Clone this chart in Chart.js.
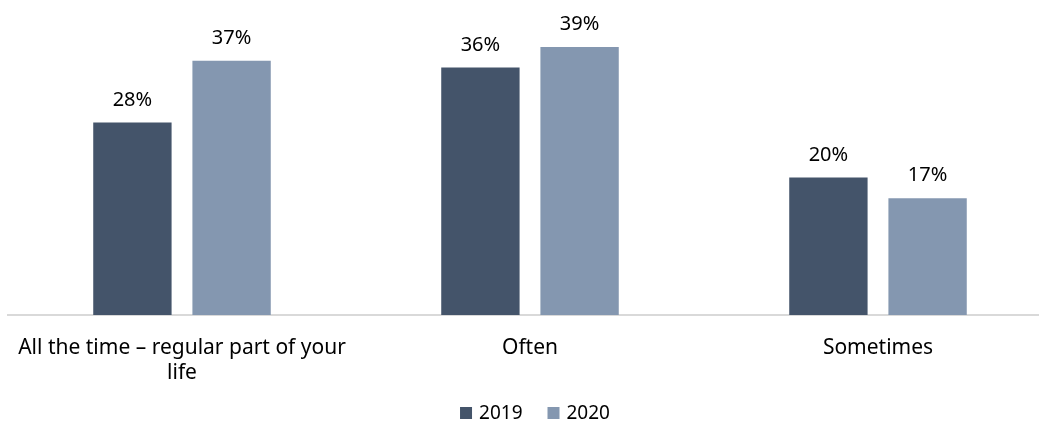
<!DOCTYPE html>
<html>
<head>
<meta charset="utf-8">
<script src="https://cdn.jsdelivr.net/npm/chart.js@4/dist/chart.umd.min.js"></script>
<style>
  html, body { margin: 0; padding: 0; background: #fff; overflow: hidden; }
  #wrap { position: relative; width: 1060px; height: 425px; }
</style>
</head>
<body>
<div id="wrap"><canvas id="chart"></canvas></div>
<script>
const categories = [
  ["All the time \u2013 regular part of your", "life"],
  "Often",
  "Sometimes"
];
const years = ["2019", "2020"];
const values2019 = [28, 36, 20];
const values2020 = [37, 39, 17];

const FONT = "'Noto Sans', sans-serif";

// percent labels above each bar
const barLabels = {
  id: "barLabels",
  afterDatasetsDraw(chart) {
    const ctx = chart.ctx;
    ctx.save();
    ctx.font = "20px " + FONT;
    ctx.fillStyle = "#000";
    ctx.textAlign = "center";
    ctx.textBaseline = "alphabetic";
    chart.data.datasets.forEach((ds, i) => {
      chart.getDatasetMeta(i).data.forEach((bar, j) => {
        ctx.fillText(ds.data[j] + "%", bar.x, bar.y - 17);
      });
    });
    ctx.restore();
  }
};

// legend row under the axis: square swatch + year, centred on the page width
const bottomLegend = {
  id: "bottomLegend",
  afterDraw(chart) {
    const ctx = chart.ctx;
    const box = 12, gap = 7, itemGap = 25, y = 413;
    ctx.save();
    ctx.font = "19px " + FONT;
    ctx.textBaseline = "middle";
    ctx.textAlign = "left";
    const items = chart.data.datasets.map(ds => ({
      text: ds.label,
      color: ds.backgroundColor,
      w: box + gap + ctx.measureText(ds.label).width
    }));
    const total = items.reduce((s, it) => s + it.w, 0) + itemGap * (items.length - 1);
    let x = 535 - total / 2;
    items.forEach(it => {
      ctx.fillStyle = it.color;
      ctx.fillRect(x, y - box / 2, box, box);
      ctx.fillStyle = "#000";
      ctx.fillText(it.text, x + box + gap, y + 1);
      x += it.w + itemGap;
    });
    ctx.restore();
  }
};

new Chart(document.getElementById("chart"), {
  type: "bar",
  data: {
    labels: categories,
    datasets: [
      {
        label: years[0],
        data: values2019,
        backgroundColor: "#44546A",
        barPercentage: 0.79,
        categoryPercentage: 0.57
      },
      {
        label: years[1],
        data: values2020,
        backgroundColor: "#8497B0",
        barPercentage: 0.79,
        categoryPercentage: 0.57
      }
    ]
  },
  options: {
    responsive: true,
    maintainAspectRatio: false,
    animation: false,
    layout: { padding: { top: 40, left: 8, right: 8, bottom: 30 } },
    scales: {
      x: {
        grid: { display: false, drawTicks: false },
        border: { display: true, color: "#D9D9D9", width: 2 },
        ticks: {
          color: "#000",
          font: { family: FONT, size: 21 },
          padding: 20,
          maxRotation: 0,
          autoSkip: false
        },
        afterFit(scale) {
          scale.height = 80;
          // keep the long first label from pushing the plot area inward
          scale.paddingLeft = 0;
          scale.paddingRight = 0;
        }
      },
      y: {
        display: false,
        min: 0,
        max: 40
      }
    },
    plugins: {
      legend: { display: false },
      tooltip: { enabled: false }
    }
  },
  plugins: [barLabels, bottomLegend]
});
</script>
</body>
</html>
